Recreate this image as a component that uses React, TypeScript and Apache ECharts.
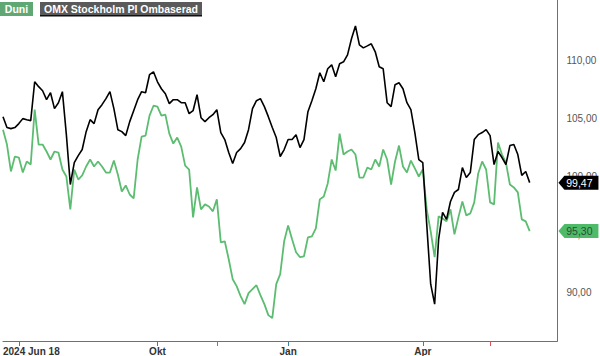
import React, { useEffect, useRef } from "react";
import * as echarts from "echarts";

// ---- data (index = trading-day slot along the time axis) ----
const omx = [
  105.15, 104.21, 104.12, 104.21, 104.55, 104.98, 104.89, 104.81, 108.15, 107.73,
  107.38, 106.61, 107.21, 105.84, 106.35, 107.30, 103.60, 99.31, 101.20, 101.80,
  102.32, 103.86, 104.89, 104.55, 105.75, 106.18, 106.70, 107.30, 105.84, 104.03,
  103.86, 103.52, 104.72, 105.66, 106.61, 107.30, 107.21, 108.76, 109.01, 108.15,
  107.55, 107.12, 106.27, 106.61, 106.61, 106.35, 106.35, 105.41, 105.66, 107.04,
  105.06, 104.72, 105.06, 105.32, 105.75, 103.78, 103.18, 102.06, 101.12, 102.06,
  102.40, 102.92, 104.03, 105.84, 106.52, 106.70, 106.01, 105.15, 104.21, 103.35,
  101.72, 102.32, 103.18, 103.18, 103.60, 102.49, 103.18, 105.58, 106.52, 107.55,
  108.93, 108.15, 109.27, 109.61, 108.58, 109.70, 109.87, 110.47, 111.85, 112.96,
  111.33, 111.07, 111.24, 111.42, 110.73, 109.44, 109.27, 106.35, 106.01, 107.90,
  108.07, 107.55, 106.35, 105.75, 103.78, 101.46, 101.20, 95.88, 90.73, 89.01,
  94.59, 96.91, 96.31, 97.85, 98.63, 98.88, 100.77, 99.91, 100.34, 103.18,
  103.60, 103.78, 104.03, 103.52, 101.03, 102.15, 101.63, 101.03, 102.66, 102.75,
  101.89, 100.09, 100.43, 99.47,
];

const duni = [
  104.03, 102.75, 100.43, 101.72, 101.63, 100.34, 101.29, 101.03, 105.75, 102.75,
  102.75, 102.15, 101.46, 102.15, 102.06, 100.60, 100.00, 97.17, 100.60, 99.74,
  100.09, 100.86, 101.46, 100.86, 101.29, 100.86, 100.34, 100.34, 101.37, 100.17,
  98.71, 99.23, 98.45, 98.11, 101.46, 103.43, 103.52, 105.24, 106.09, 106.01,
  105.24, 105.32, 103.69, 102.83, 103.35, 102.57, 100.94, 100.60, 96.48, 99.06,
  97.17, 97.60, 97.42, 97.00, 98.03, 94.33, 94.42, 92.88, 91.16, 90.56,
  89.70, 89.01, 89.96, 90.30, 90.64, 89.79, 89.01, 88.07, 87.81, 90.73,
  91.59, 94.42, 95.79, 94.59, 93.48, 93.05, 93.13, 94.76, 94.85, 95.54,
  98.03, 98.28, 99.40, 101.46, 100.51, 103.69, 101.89, 102.15, 102.32, 101.89,
  99.91, 99.91, 100.77, 100.60, 101.46, 100.86, 102.32, 101.46, 99.31, 101.29,
  102.66, 100.86, 100.34, 101.37, 100.69, 100.00, 100.60, 97.17, 95.28, 93.05,
  96.57, 96.39, 96.14, 97.17, 95.02, 96.48, 97.85, 96.65, 96.82, 97.77,
  100.26, 101.29, 100.60, 97.77, 97.60, 102.92, 101.89, 101.20, 99.31, 99.06,
  98.63, 96.31, 96.14, 95.30,
];

const slotCount = 141;
const tickSlots = [4, 39, 72, 106];
const labelSlots = [0, 39, 72, 106];
const tickLabels = ["2024 Jun 18", "Okt", "Jan", "Apr"];
const redTickSlots = [54, 123];
const yLabelValues = [90, 95, 100, 105, 110];
const seriesNames = ["Duni", "OMX Stockholm PI Ombaserad"];

const FONT = "Liberation Sans, Arial, sans-serif";
const AXIS_COLOR = "#3f7fa0";
const GREEN = "#5cbd71";
const fmt = (v: number) => v.toFixed(2).replace(".", ",");

const categories = Array.from({ length: slotCount }, (_, i) =>
  i === 0 ? { value: String(i), textStyle: { align: "left" } } : String(i)
);

const tagPath = "path://M0,7 L6,0 L40,0 L40,14 L6,14 Z";

export default function App() {
  const ref = useRef<HTMLDivElement>(null);
  useEffect(() => {
    if (!ref.current) return;
    const chart = echarts.init(ref.current, undefined, { renderer: "svg" });
    const lastSlot = String(slotCount - 1);
    const mkTag = (val: number, bg: string, fg: string) => ({
      symbol: tagPath,
      symbolSize: [40, 14],
      symbolOffset: [21, 0],
      symbolKeepAspect: false,
      silent: true,
      itemStyle: { color: bg },
      label: {
        show: true,
        position: "inside",
        formatter: "{b}",
        color: fg,
        fontSize: 10.5,
        fontFamily: FONT,
        offset: [1, 0],
      },
      data: [{ name: fmt(val), coord: [lastSlot, val] }],
    });
    chart.setOption({
      animation: false,
      backgroundColor: "#ffffff",
      grid: { left: 0, right: 41, top: 0, bottom: 14, containLabel: false },
      xAxis: [
        {
          type: "category",
          data: categories,
          boundaryGap: false,
          axisLine: { show: true, onZero: false, lineStyle: { color: AXIS_COLOR, width: 1 } },
          axisTick: {
            show: true,
            length: 5,
            interval: (i: number) => tickSlots.includes(i),
            lineStyle: { color: AXIS_COLOR },
          },
          axisLabel: {
            show: true,
            interval: (i: number) => labelSlots.includes(i),
            formatter: (_v: string, i: number) => {
              const k = labelSlots.indexOf(i);
              return k >= 0 ? tickLabels[k] : "";
            },
            alignMinLabel: "left",
            margin: 5,
            fontSize: 10,
            fontWeight: "bold",
            color: "#333",
            fontFamily: FONT,
            hideOverlap: false,
          },
          splitLine: { show: false },
        },
        {
          type: "category",
          data: categories.map((c: any) => (typeof c === "string" ? c : c.value)),
          boundaryGap: false,
          position: "bottom",
          axisLine: { show: false, onZero: false },
          axisTick: {
            show: true,
            length: 5,
            interval: (i: number) => redTickSlots.includes(i),
            lineStyle: { color: "#e0505a" },
          },
          axisLabel: { show: false },
          splitLine: { show: false },
        },
      ],
      yAxis: {
        type: "value",
        position: "right",
        min: 85.84,
        max: 115.19,
        splitLine: { show: false },
        axisLine: { show: true, lineStyle: { color: AXIS_COLOR, width: 1 } },
        axisTick: { show: false },
        axisLabel: {
          margin: 9,
          fontSize: 10,
          color: "#555",
          fontFamily: FONT,
          showMinLabel: false,
          showMaxLabel: false,
          formatter: (v: number) =>
            yLabelValues.some((t) => Math.abs(t - v) < 1e-6) ? fmt(v) : "",
        },
      },
      series: [
        {
          name: seriesNames[0],
          type: "line",
          data: duni,
          showSymbol: false,
          symbol: "none",
          lineStyle: { color: GREEN, width: 1.8 },
          itemStyle: { color: GREEN },
          z: 2,
          markPoint: mkTag(duni[duni.length - 1], "#4fbb69", "#2d4f35"),
        },
        {
          name: seriesNames[1],
          type: "line",
          data: omx,
          showSymbol: false,
          symbol: "none",
          lineStyle: { color: "#000000", width: 1.6 },
          itemStyle: { color: "#000000" },
          z: 3,
          markPoint: mkTag(omx[omx.length - 1], "#000000", "#ffffff"),
        },
      ],
      graphic: [
        { type: "rect", shape: { x: 0, y: 2, width: 33, height: 14 }, style: { fill: "#5fa874" }, z: 10 },
        {
          type: "text",
          x: 16.5,
          y: 9,
          style: { text: seriesNames[0], fill: "#ffffff", font: `bold 10.5px ${FONT}`, align: "center", verticalAlign: "middle" },
          z: 11,
        },
        { type: "rect", shape: { x: 40, y: 14.5, width: 162, height: 2 }, style: { fill: "#111111" }, z: 10 },
        { type: "rect", shape: { x: 40, y: 2, width: 162, height: 13 }, style: { fill: "#5a5a5a" }, z: 10 },
        {
          type: "text",
          x: 121,
          y: 8.5,
          style: { text: seriesNames[1], fill: "#ffffff", font: `bold 10.5px ${FONT}`, align: "center", verticalAlign: "middle" },
          z: 11,
        },
      ],
    });
    return () => chart.dispose();
  }, []);
  return (
    <div
      ref={ref}
      style={{ position: "fixed", left: 0, top: 0, width: 600, height: 356, background: "#fff" }}
    />
  );
}
